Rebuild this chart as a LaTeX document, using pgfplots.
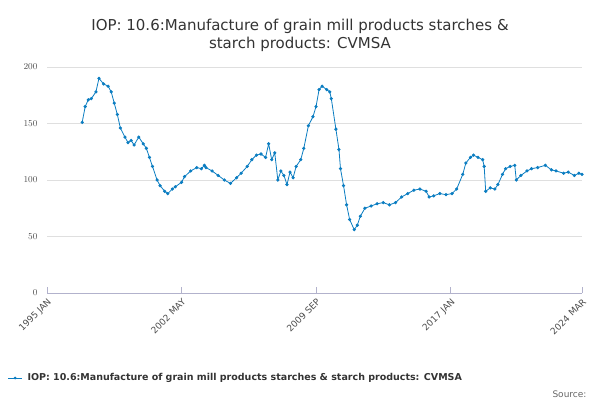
\documentclass[border=0pt]{standalone}
\usepackage{pgfplots}
\pgfplotsset{compat=1.18}
\usepackage{fontspec}
\setmainfont{DejaVu Sans}
\definecolor{ln}{HTML}{0B7DC1}
\begin{document}
\begin{tikzpicture}[x=1pt,y=1pt]
\path (0,0) rectangle (600,400);
\node[align=center,font=\fontsize{15}{18}\selectfont,text=black!80] at (300,365) {IOP: 10.6:Manufacture of grain mill products starches \&\\starch products: CVMSA};
\begin{axis}[at={(47pt,107pt)},anchor=south west,scale only axis,width=535pt,height=226pt,
 xmin=0,xmax=350,ymin=0,ymax=200,
 axis x line*=bottom, axis y line*=left, x axis line style={draw=blue!20!gray!50},
 y axis line style={draw=none}, ytick style={draw=none},
 xtick={0,88,176,264,350},xticklabels={1995 JAN,2002 MAY,2009 SEP,2017 JAN,2024 MAR},
 xticklabel style={rotate=45,anchor=north east,font=\fontsize{9}{10}\selectfont,text=black!70},
 ytick={0,50,100,150,200}, ymajorgrids, grid style={gray!25},
 yticklabel style={font=\fontsize{9}{10}\selectfont,text=black!70,xshift=-6pt},
 major tick length=6pt, xtick style={draw=blue!20!gray!50},
 clip=false]
\addplot[ln,thick,mark=*,mark size=1.2pt] coordinates {
(23,151)(25,165)(27,171)(29,172)(32,178)(34,190)(37,185)(40,183)(42,178)(44,168)(46,158)(48,146)(51,138)(53,133)(55,135)(57,131)(60,138)(63,132)(65,128)(67,120)(69,112)(72,100)(74,95)(77,90)(79,88)(82,92)(84,94)(88,98)(90,103)(94,108)(98,111)(101,110)(103,113)(104,111)(108,108)(112,104)(116,100)(120,97)(124,102)(127,106)(131,112)(134,118)(137,122)(140,123)(143,120)(145,132)(147,118)(149,124)(151,100)(153,108)(155,104)(157,96)(159,107)(161,102)(163,112)(166,118)(168,128)(171,148)(174,156)(176,165)(178,180)(180,183)(183,180)(185,178)(186,172)(189,145)(191,127)(192,110)(194,95)(196,78)(198,65)(201,56)(203,60)(205,68)(208,75)(212,77)(216,79)(220,80)(224,78)(228,80)(232,85)(236,88)(240,91)(244,92)(248,90)(250,85)(253,86)(257,88)(261,87)(265,88)(268,92)(272,105)(274,115)(277,120)(279,122)(282,120)(285,118)(286,112)(287,90)(290,93)(293,92)(295,96)(298,105)(300,110)(303,112)(306,113)(307,100)(310,104)(314,108)(317,110)(321,111)(326,113)(330,109)(333,108)(338,106)(341,107)(345,104)(348,106)(350,105)};
\end{axis}
\draw[ln,thick] (8,22)--(22,22); \fill[ln] (15,22) circle (1.5pt);
\node[anchor=west,font=\fontsize{9.5}{11}\selectfont\bfseries,text=black!80] at (24,22) {IOP: 10.6:Manufacture of grain mill products starches \& starch products: CVMSA};
\node[anchor=east,font=\fontsize{9}{10}\selectfont,text=black!60] at (590,6) {Source:};
\end{tikzpicture}
\end{document}
